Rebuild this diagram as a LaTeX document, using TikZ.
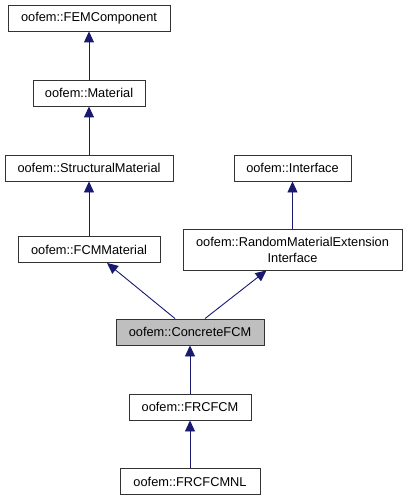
\documentclass[tikz,border=0pt]{standalone}
\usepackage{fontspec}
\setmainfont{Liberation Sans}
\usetikzlibrary{arrows.meta}
\definecolor{edgeblue}{RGB}{25,25,112}
\tikzset{
	cls/.style={draw=black!80, fill=white, line width=0.9pt, inner sep=0pt, minimum height=26pt, font=\fontsize{12.8}{15}\selectfont},
	inh/.style={draw=edgeblue, line width=0.9pt, {Triangle[width=10pt,length=11pt]}-}
}
\begin{document}
\begin{tikzpicture}[x=1pt,y=-1pt]
			\useasboundingbox (0,0) rectangle (408,500);
			\node[cls, minimum width=162pt] (fem) at (89,18) {oofem::FEMComponent};
			\node[cls, minimum width=112pt] (mat) at (89,93) {oofem::Material};
			\node[cls, minimum width=168pt] (struct) at (89,168) {oofem::StructuralMaterial};
			\node[cls, minimum width=117pt] (iface) at (292.5,168) {oofem::Interface};
			\node[cls, minimum width=142pt] (fcm) at (89,249.5) {oofem::FCMMaterial};
			\node[cls, minimum width=219pt, minimum height=41pt, align=center] (rme) at (292.5,249.5) {oofem::RandomMaterialExtension\\[1pt]Interface};
			\node[cls, minimum width=148pt, fill=black!25] (concrete) at (190,332) {oofem::ConcreteFCM};
			\node[cls, minimum width=122pt] (frc) at (190,407) {oofem::FRCFCM};
			\node[cls, minimum width=140pt] (frcnl) at (190,481.5) {oofem::FRCFCMNL};
			\draw[inh] (fem) -- (mat);
			\draw[inh] (mat) -- (struct);
			\draw[inh] (struct) -- (fcm);
			\draw[inh] (iface) -- (rme);
			\draw[inh] ([xshift=18pt]fcm.south) -- ([xshift=-15pt]concrete.north);
			\draw[inh] ([xshift=-26pt]rme.south) -- ([xshift=15pt]concrete.north);
			\draw[inh] (concrete) -- (frc);
			\draw[inh] (frc) -- (frcnl);
		\end{tikzpicture}
\end{document}
